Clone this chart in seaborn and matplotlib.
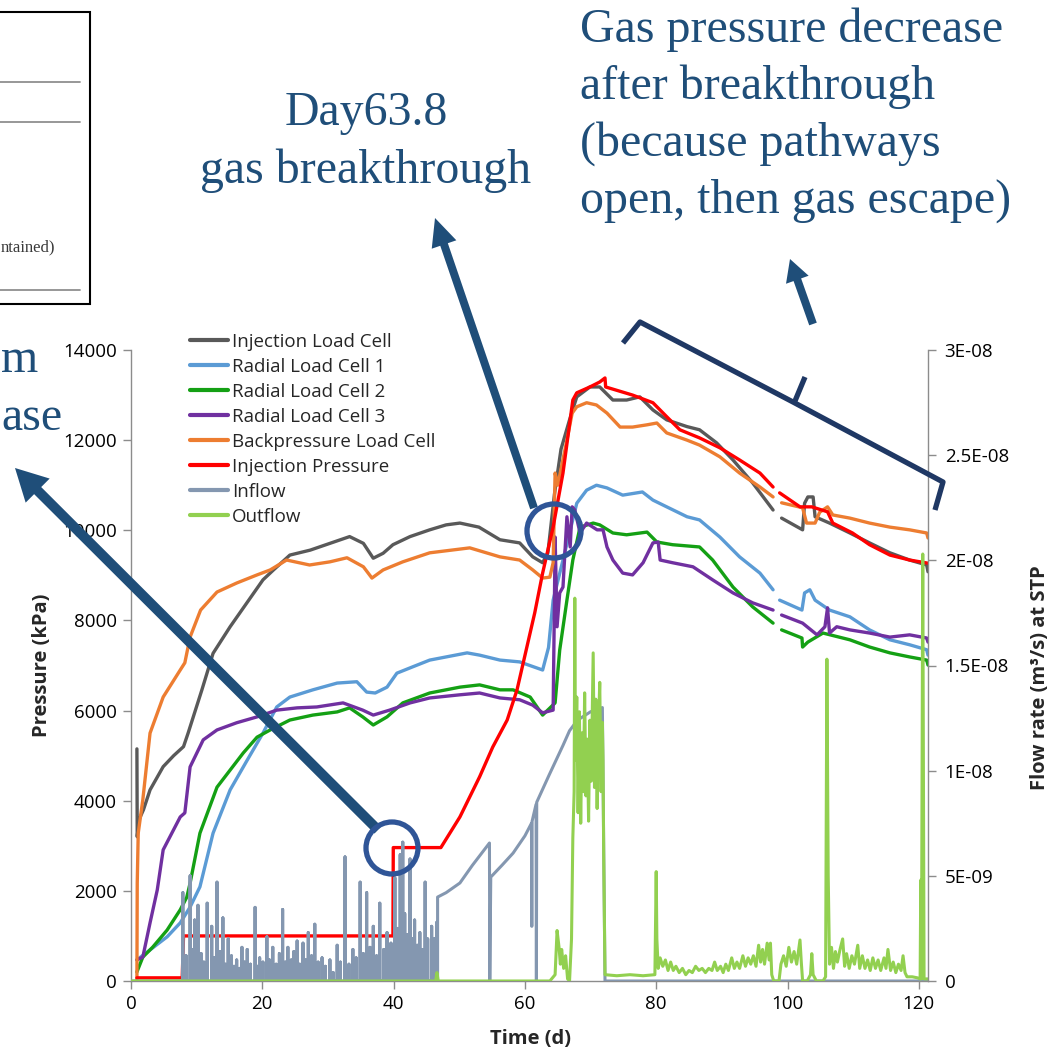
import numpy as np
import pandas as pd
import matplotlib
matplotlib.use("Agg")
import matplotlib.pyplot as plt
import seaborn as sns
from matplotlib.lines import Line2D
from matplotlib.patches import Circle, FancyArrow, Rectangle

sns.set_theme(style="white")
plt.rcParams['font.family'] = ['Open Sans', 'DejaVu Sans']

NAN = float('nan')

# ---------------- data (time in days, pressure in kPa, flow in 1e-9 m3/s) ----------------
ilc_t = [0.9, 0.95, 1.2, 1.9, 2.9, 4.9, 6.5, 8.0, 8.7, 10.8, 12.5, 15.1, 17.6, 20.1, 21.7,
         24.2, 27.3, 30.3, 33.3, 35.4, 36.9, 38.4, 39.9, 42.5, 45.5, 48.0, 50.1, 53.0, 56.2,
         59.2, 61.2, 62.7, 63.5, 64.5, 65.5, 66.8, 67.9, 69.9, 71.4, 73.4, 75.5, 77.5, 79.5,
         81.6, 84.7, 86.6, 89.2, 91.7, 94.7, 97.8, NAN, 99.1, 102.3, 102.6, 103.1, 103.9,
         104.2, 106.4, 109.5, 112.5, 115.6, 118.6, 121.2, 121.4]
ilc_p = [5150, 3200, 3570, 3800, 4240, 4755, 5000, 5200, 5500, 6460, 7270, 7860, 8380, 8900, 9120,
         9450, 9560, 9710, 9860, 9710, 9380, 9490, 9680, 9860, 10010, 10120, 10160, 10070, 9790,
         9720, 9410, 9280, 9500, 10800, 11800, 12450, 12960, 13180, 13180, 12890, 12890, 12960, 12670,
         12450, 12300, 12230, 11940, 11560, 11050, 10450, NAN, 10270, 10010, 10600, 10740, 10740,
         10300, 10160, 9940, 9720, 9500, 9340, 9230, 9080]

r1_t = [0.9, 2.9, 5.5, 7.5, 9.0, 10.5, 12.5, 15.1, 17.7, 20.1, 22.2, 24.2, 27.7, 31.4, 34.4,
        35.9, 37.2, 39.0, 40.5, 42.9, 45.5, 51.2, 53.1, 56.2, 59.2, 62.7, 63.6, 64.3, 65.8,
        67.9, 69.4, 70.9, 72.5, 74.9, 77.9, 79.5, 81.6, 84.7, 86.6, 89.7, 92.7, 95.8, 97.8,
        NAN, 98.8, 102.2, 102.6, 103.4, 104.2, 106.4, 109.5, 112.5, 115.6, 118.6, 121.2, 121.4]
r1_p = [470, 690, 980, 1290, 1640, 2090, 3280, 4240, 4900, 5500, 6080, 6300, 6460, 6610, 6640,
        6410, 6390, 6520, 6830, 6970, 7120, 7280, 7230, 7120, 7080, 6900, 7400, 8450, 9340,
        10600, 10890, 11000, 10940, 10780, 10850, 10670, 10520, 10300, 10230, 9850, 9410, 9050, 8680,
        NAN, 8450, 8230, 8610, 8680, 8450, 8230, 8080, 7790, 7570, 7460, 7350, 7230]

r2_t = [0.9, 1.8, 3.3, 5.5, 7.5, 8.5, 9.0, 10.5, 13.1, 15.1, 17.1, 19.2, 21.2, 24.2, 27.7,
        31.4, 33.3, 35.3, 36.9, 39.0, 41.4, 45.5, 50.1, 53.1, 56.2, 58.2, 60.8, 62.7, 64.6,
        65.3, 66.4, 67.3, 68.4, 70.4, 71.4, 73.4, 75.5, 78.6, 80.1, 82.5, 86.6, 88.6, 91.7,
        94.7, 97.8, NAN, 99.1, 102.2, 102.3, 103.1, 105.4, 109.5, 112.5, 115.6, 118.6, 121.2, 121.4]
r2_p = [200, 530, 750, 1130, 1580, 1860, 2170, 3280, 4300, 4680, 5060, 5410, 5570, 5790, 5900,
        5970, 6060, 5860, 5680, 5860, 6170, 6390, 6520, 6570, 6460, 6460, 6300, 5900, 6170,
        7340, 8450, 9340, 10070, 10160, 10120, 9940, 9900, 9960, 9740, 9680, 9630, 9340, 8740,
        8300, 7940, NAN, 7790, 7610, 7410, 7520, 7720, 7570, 7410, 7280, 7190, 7120, 7010]

r3_t = [0.9, 1.8, 2.9, 4.0, 4.9, 7.5, 8.2, 9.0, 11.0, 13.1, 16.1, 19.2, 22.2, 25.3, 28.3,
        32.3, 35.3, 36.9, 39.4, 42.5, 45.5, 50.1, 53.1, 56.2, 59.2, 61.2, 62.7, 64.3, 64.5,
        64.6, 64.9, 65.3, 65.8, 66.4, 66.9, 67.2, 67.6, 68.4, 69.4, 71.0, 71.9, 72.5, 73.4,
        74.9, 76.4, 78.0, 79.5, 80.3, 80.6, 82.5, 85.6, 88.6, 91.7, 94.7, 97.8, NAN, 99.1,
        102.3, 104.5, 105.7, 106.1, 106.4, 107.5, 109.5, 112.5, 115.6, 118.6, 121.2, 121.4]
r3_p = [470, 530, 1290, 2020, 2910, 3640, 3730, 4750, 5350, 5570, 5730, 5860, 6010, 6060, 6080,
        6170, 6010, 5900, 6010, 6170, 6280, 6350, 6390, 6280, 6240, 6120, 5950, 6010, 8450,
        9850, 7860, 8610, 8740, 10300, 9630, 10520, 10450, 9940, 10160, 10010, 10010, 9630, 9340,
        9050, 9010, 9280, 9720, 9740, 9340, 9280, 9190, 8900, 8610, 8390, 8230, NAN, 8120,
        7940, 7680, 7860, 8280, 7720, 7860, 7790, 7720, 7630, 7680, 7610, 7520]

bp_t = [0.9, 0.95, 1.1, 1.8, 2.9, 4.9, 7.5, 8.2, 9.0, 10.6, 13.1, 16.1, 19.2, 21.2, 23.7,
        27.2, 30.3, 32.9, 35.4, 36.7, 38.4, 41.4, 45.5, 51.6, 56.2, 59.2, 61.2, 62.7, 63.8,
        64.3, 64.6, 65.0, 66.4, 67.2, 67.9, 69.4, 70.9, 72.5, 74.5, 76.4, 78.6, 80.1, 81.6,
        84.7, 86.6, 89.7, 92.7, 95.8, 97.8, NAN, 99.1, 102.3, 102.9, 104.2, 104.9, 106.1,
        106.9, 109.5, 112.5, 115.6, 118.6, 121.2, 121.4]
bp_p = [0, 2170, 3280, 4020, 5500, 6300, 6900, 7060, 7630, 8230, 8630, 8830, 9010, 9120, 9340,
        9230, 9300, 9390, 9190, 8940, 9120, 9300, 9500, 9610, 9410, 9340, 9120, 8940, 8960,
        9280, 11270, 11000, 12000, 12600, 12740, 12830, 12780, 12600, 12290, 12290, 12340, 12380, 12160,
        12000, 11890, 11630, 11270, 10960, 10740, NAN, 10610, 10500, 10160, 10160, 10400, 10520,
        10340, 10270, 10160, 10070, 10010, 9940, 9830]

ip_t = [0.9, 7.8, 8.0, 39.9, 39.95, 47.2, 50.1, 53.1, 55.1, 57.3, 58.8, 60.3, 61.5, 62.7,
        64.3, 65.8, 67.3, 67.9, 69.9, 71.4, 72.2, 72.3, 76.4, 79.5, 81.6, 83.6, 86.6, 89.7,
        92.7, 95.8, 97.8, NAN, 98.8, 101.9, 103.7, 106.1, 106.9, 109.9, 112.5, 115.6, 118.6, 121.4]
ip_p = [70, 70, 1000, 1000, 2960, 2960, 3640, 4530, 5190, 5790, 6460, 7410, 8170, 9050,
        10070, 11270, 12890, 13050, 13180, 13290, 13380, 13180, 13000, 12830, 12520, 12230, 12050, 11830,
        11560, 11270, 10960, NAN, 10830, 10520, 10520, 10410, 10160, 9940, 9680, 9450, 9340, 9270]

# Inflow: individual spikes during constant-pressure stages, then a continuous curve
inflow_spike_t = [
    7.9, 8.4, 9.0, 9.4, 9.7, 10.2, 10.7, 11.1, 11.6, 12.3,
    12.7, 13.1, 13.6, 14.0, 14.4, 14.8, 15.3, 15.7, 16.1, 16.5,
    16.9, 17.3, 17.7, 18.2, 18.9, 19.3, 19.6, 20.1, 20.7, 21.1,
    21.6, 22.1, 22.6, 23.1, 23.5, 23.9, 24.4, 24.8, 25.3, 25.7,
    26.2, 26.6, 27.0, 27.5, 28.0, 28.5, 29.1, 29.6, 30.3, 30.8,
    31.4, 31.9, 32.6, 33.2, 33.8, 34.3, 34.9, 35.4, 35.9, 36.4,
    36.9, 37.4, 37.9, 38.5, 39.0, 39.6, 40.2, 40.6, 41.0, 41.4,
    41.7, 42.1, 42.5, 42.9, 43.2, 43.6, 44.0, 44.4, 44.8, 45.2,
    45.8, 46.2, 46.6]
inflow_spike_v = [
    4.2, 1.2, 5.0, 1.5, 2.9, 3.6, 1.3, 0.9, 3.7, 2.6,
    1.1, 4.7, 1.4, 3.0, 0.8, 2.0, 1.2, 0.7, 1.0, 0.6,
    1.6, 0.9, 1.5, 0.8, 3.5, 0.7, 1.1, 0.9, 2.1, 1.0,
    1.6, 0.8, 1.3, 3.4, 0.9, 1.6, 1.0, 1.4, 1.9, 0.8,
    1.8, 1.0, 2.3, 1.2, 2.7, 0.9, 1.1, 0.7, 1.0, 0.4,
    1.7, 0.9, 5.9, 0.8, 1.5, 1.1, 4.7, 1.3, 4.2, 1.6,
    2.6, 1.2, 3.7, 1.5, 2.3, 1.8, 4.9, 2.5, 6.0, 6.6,
    3.2, 2.2, 5.8, 2.0, 2.9, 1.7, 2.3, 1.5, 4.7, 2.0,
    2.6, 2.0, 2.8]
inflow_tail_t = [46.7, 46.7, 48.0, 50.1, 52.0, 54.6, 54.65, 54.8, 56.5, 58.2, 60.0, 61.0, 61.05,
                 61.1, 61.7, 61.75, 61.8, 63.7, 65.8, 66.8, 68.0, 70.0, 71.8, 72.2, 121.4]
inflow_tail_v = [0.0, 3.99, 4.2, 4.66, 5.5, 6.56, 0.0, 4.94, 5.5, 6.08, 6.9, 7.5, 2.6,
                 7.6, 8.4, 0.0, 8.5, 9.8, 11.2, 11.9, 12.4, 12.8, 13.0, 0.0, 0.0]

out_t = [0.0, 46.4, 46.6, 46.8, 63.8, 64.6, 64.9, 65.2, 65.4, 65.6, 65.9, 66.2, 66.5, 66.8,
         67.1, 67.3, 67.5, 67.6, 67.7, 67.9, 68.1, 68.3, 68.5, 68.7, 68.9, 69.1, 69.3, 69.5,
         69.7, 69.9, 70.1, 70.4, 70.6, 70.8, 71.0, 71.2, 71.4, 71.6, 71.8, 71.9, 72.0, 72.2,
         74.0, 76.0, 78.0, 79.8, 80.0, 80.1, 80.3, 80.6, 81.0, 81.4, 81.8, 82.2, 82.6, 83.0,
         83.5, 84.0, 84.5, 85.0, 85.5, 86.0, 86.5, 87.0, 87.5, 88.0, 88.5, 88.9, 89.3, 89.8,
         90.2, 90.6, 91.0, 91.5, 91.9, 92.3, 92.7, 93.2, 93.6, 94.0, 94.4, 94.8, 95.2, 95.6,
         95.9, 96.2, 96.5, 96.9, 97.2, 97.4, 97.6, 97.9, 98.7, 99.0, 99.4, 99.8, 100.2, 100.6,
         101.0, 101.4, 101.9, 102.1, 102.3, 103.0, 103.5, 103.7, 103.9, 104.4, 105.4, 105.8,
         106.0, 106.2, 106.4, 106.7, 107.0, 107.3, 107.6, 108.0, 108.4, 108.7, 109.0, 109.4,
         109.8, 110.2, 110.7, 111.0, 111.4, 111.8, 112.2, 112.6, 113.0, 113.4, 113.8, 114.2,
         114.7, 115.0, 115.3, 115.7, 116.1, 116.5, 116.9, 117.3, 117.6, 117.9, 118.2, 119.0,
         119.8, 120.2, 120.3, 120.4, 120.6, 120.8, 121.4]
out_v = [0.0, 0.0, 0.4, 0.0, 0.0, 0.3, 2.4, 1.6, 0.8, 1.5, 0.6, 1.2, 0.1, 0.0,
         2.0, 6.8, 9.0, 18.2, 10.5, 13.5, 8.0, 12.8, 7.5, 11.8, 9.0, 13.7, 8.8, 11.5,
         7.6, 12.4, 9.5, 15.6, 9.2, 13.4, 8.2, 12.0, 14.2, 9.0, 12.3, 10.5, 6.0, 0.3,
         0.25, 0.3, 0.25, 0.3, 5.2, 2.0, 0.6, 1.1, 0.7, 1.0, 0.5, 0.9, 0.5, 0.7,
         0.4, 0.6, 0.3, 0.5, 0.4, 0.7, 0.5, 0.6, 0.4, 0.6, 0.5, 0.9, 0.5, 0.7,
         0.4, 0.8, 0.5, 1.1, 0.6, 0.9, 0.6, 1.2, 0.7, 1.1, 0.8, 1.2, 0.7, 1.7,
         0.9, 1.5, 0.8, 1.8, 1.0, 1.8, 0.3, 0.0, 0.0, 0.8, 1.2, 0.7, 1.6, 0.9,
         1.4, 0.8, 1.95, 0.9, 0.0, 0.0, 0.3, 1.3, 0.3, 0.0, 0.0, 0.2,
         15.3, 5.0, 0.8, 1.6, 0.6, 1.4, 0.9, 1.5, 2.0, 0.7, 1.3, 0.6,
         1.2, 0.8, 1.7, 0.6, 1.2, 0.6, 1.0, 0.5, 1.1, 0.6, 1.0, 0.5,
         1.1, 0.6, 1.5, 0.5, 0.9, 0.4, 0.8, 0.5, 1.2, 0.4, 0.2, 0.2,
         0.15, 0.1, 4.8, 0.1, 20.3, 0.1, 0.1]

labels = ["Injection Load Cell", "Radial Load Cell 1", "Radial Load Cell 2", "Radial Load Cell 3",
          "Backpressure Load Cell", "Injection Pressure", "Inflow", "Outflow"]
colors = ["#595959", "#5B9BD5", "#14A014", "#7030A0", "#ED7D31", "#FF0000", "#8497B0", "#92D050"]

right_ticks = [0, 5e-9, 1e-8, 1.5e-8, 2e-8, 2.5e-8, 3e-8]
right_ticklabels = ["0", "5E-09", "1E-08", "1.5E-08", "2E-08", "2.5E-08", "3E-08"]


def to_frame(t, v, scale=1.0):
    t = np.asarray(t, float)
    v = np.asarray(v, float) * scale
    seg = np.cumsum(np.isnan(t))
    m = ~np.isnan(t)
    return pd.DataFrame({"t": t[m], "v": v[m], "seg": seg[m]})


# inflow series: spikes up from zero, then continuous curve
in_t, in_v = [0.0], [0.0]
for tt, vv in zip(inflow_spike_t, inflow_spike_v):
    in_t += [tt, tt, tt]
    in_v += [0.0, vv, 0.0]
in_t += inflow_tail_t
in_v += inflow_tail_v

W, H = 1056, 1051
fig = plt.figure(figsize=(W / 100, H / 100), dpi=100)
fig.patch.set_facecolor("white")
L, R, T, B = 131, 928, 350, 981
ax = fig.add_axes([L / W, 1 - B / H, (R - L) / W, (B - T) / H])
ax2 = ax.twinx()

primary = [(ilc_t, ilc_p), (r1_t, r1_p), (r2_t, r2_p), (r3_t, r3_p), (bp_t, bp_p), (ip_t, ip_p)]
for (tt, pp), c in zip(primary, colors[:6]):
    sns.lineplot(data=to_frame(tt, pp), x="t", y="v", units="seg", estimator=None, sort=False,
                 color=c, lw=2.4, ax=ax, legend=False)

sns.lineplot(data=to_frame(in_t, in_v, 1e-9), x="t", y="v", estimator=None, sort=False,
             color=colors[6], lw=2.2, ax=ax2, legend=False)
sns.lineplot(data=to_frame(out_t, out_v, 1e-9), x="t", y="v", estimator=None, sort=False,
             color=colors[7], lw=2.2, ax=ax2, legend=False)

spine_c = "#8C8C8C"
for a in (ax, ax2):
    a.set_xlim(0, 121.4)
    for s in a.spines.values():
        s.set_visible(False)
ax.spines["left"].set_visible(True)
ax.spines["bottom"].set_visible(True)
ax2.spines["right"].set_visible(True)
for s in (ax.spines["left"], ax.spines["bottom"], ax2.spines["right"]):
    s.set_color(spine_c)
    s.set_linewidth(1.0)

ax.set_ylim(0, 14000)
ax.set_yticks(range(0, 14001, 2000))
ax.set_xticks(range(0, 121, 20))
ax2.set_ylim(0, 3e-8)
ax2.set_yticks(right_ticks)
ax2.set_yticklabels(right_ticklabels)
ax.tick_params(axis="both", direction="out", length=6, width=1, color=spine_c,
               labelsize=13.5, labelcolor="black", pad=4, left=True, bottom=True)
ax2.tick_params(axis="y", direction="out", length=6, width=1, color=spine_c,
                labelsize=13.5, labelcolor="black", pad=6, right=True)
ax.grid(False)
ax2.grid(False)

ax.set_xlabel("Time (d)", fontsize=14.5, fontweight="bold")
ax.set_ylabel("Pressure (kPa)", fontsize=14.5, fontweight="bold")
ax2.set_ylabel("Flow rate (m³/s) at STP", fontsize=14.5, fontweight="bold")
ax.xaxis.set_label_coords((530 - L) / (R - L), (B - 1029) / (B - T))
ax.yaxis.set_label_coords((52 - L) / (R - L), 0.5)
ax2.yaxis.set_label_coords((1030 - L) / (R - L), 0.48)

handles = [Line2D([0], [0], color=c, lw=3) for c in colors]
ax2.legend(handles, labels, loc="upper left", bbox_to_anchor=(190 / W, 1 - 333 / H),
           bbox_transform=fig.transFigure, frameon=False, borderpad=0, borderaxespad=0,
           handlelength=2.0, handletextpad=0.25, labelspacing=0.37, fontsize=13.5)

# ---------------- overlay annotations (pixel coordinates) ----------------
ov = fig.add_axes([0, 0, 1, 1], zorder=10)
ov.set_xlim(0, W)
ov.set_ylim(H, 0)
ov.axis("off")
ov.patch.set_alpha(0)

TXT = "#1F4E79"
serif = ["Liberation Serif", "DejaVu Serif"]
fs = 34.5
for y, s in zip([42, 99, 156, 213], ["Gas pressure decrease", "after breakthrough",
                                      "(because pathways", "open, then gas escape)"]):
    ov.text(580, y, s, fontfamily=serif, fontsize=fs, color=TXT, ha="left", va="baseline")
ov.text(366, 125, "Day63.8", fontfamily=serif, fontsize=fs, color=TXT, ha="center", va="baseline")
ov.text(366, 183, "gas breakthrough", fontfamily=serif, fontsize=fs, color=TXT, ha="center", va="baseline")
# fragments of a neighbouring caption, visible at the left edge
ov.text(1, 372, "m", fontfamily=serif, fontsize=fs, color=TXT, ha="left", va="baseline")
ov.text(1, 430, "ase", fontfamily=serif, fontsize=fs, color=TXT, ha="left", va="baseline")

# cropped table box at top-left
ov.add_patch(Rectangle((-10, 12), 100, 292, fill=False, edgecolor="black", lw=1.5))
for yy in (82, 122, 290):
    ov.plot([0, 80], [yy, yy], color="#8F8F8F", lw=1.3)
ov.text(1, 251, "ntained)", fontfamily=serif, fontsize=12, color="#3A3A3A", ha="left", va="baseline")

# arrows
ARW = "#1F4E79"
ov.add_patch(FancyArrow(378, 830, 15 - 378, 468 - 830, width=10, head_width=34, head_length=32,
                        length_includes_head=True, color=ARW, lw=0))
ov.add_patch(FancyArrow(534, 508, 435 - 534, 218 - 508, width=8, head_width=26, head_length=28,
                        length_includes_head=True, color=ARW, lw=0))
ov.add_patch(FancyArrow(813, 324, 790 - 813, 259 - 324, width=8, head_width=24, head_length=22,
                        length_includes_head=True, color=ARW, lw=0))

# circles
CIR = "#2F5597"
ov.add_patch(Circle((392, 848), 26, fill=False, ec=CIR, lw=3.8))
ov.add_patch(Circle((554, 531), 27, fill=False, ec=CIR, lw=3.8))

# bracket
BR = "#1F3864"
ov.plot([623, 640, 793, 943, 935], [343, 322, 402, 482, 510], color=BR, lw=3.8,
        solid_joinstyle="round", solid_capstyle="butt")
ov.plot([795, 805], [401, 377], color=BR, lw=3.8, solid_capstyle="butt")

fig.savefig("out.png", dpi=100)
